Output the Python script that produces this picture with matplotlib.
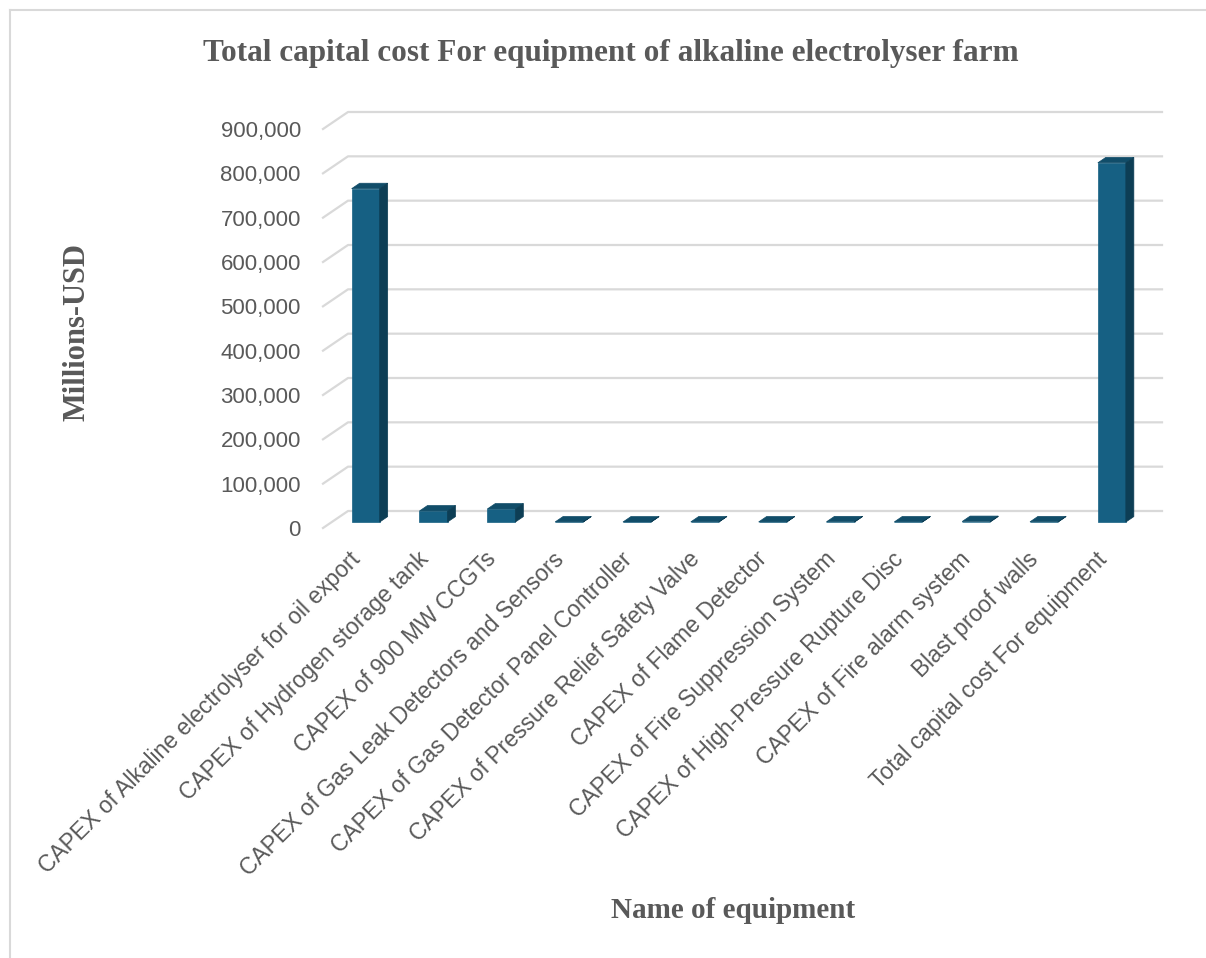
import numpy as np
import matplotlib
matplotlib.use("Agg")
import matplotlib.pyplot as plt
from matplotlib.patches import Polygon
from matplotlib.lines import Line2D

# data (Millions-USD)
categories = [
    "CAPEX of Alkaline electrolyser for oil export",
    "CAPEX of Hydrogen storage tank",
    "CAPEX of 900 MW CCGTs",
    "CAPEX of Gas Leak Detectors and Sensors",
    "CAPEX of Gas Detector Panel Controller",
    "CAPEX of Pressure Relief Safety Valve",
    "CAPEX of Flame Detector",
    "CAPEX of Fire Suppression System",
    "CAPEX of High-Pressure Rupture Disc",
    "CAPEX of Fire alarm system",
    "Blast proof walls",
    "Total capital cost For equipment",
]
costs = [752000, 25000, 29500, 300, 150, 400, 250, 600, 350, 1200, 500, 810300]
y_ticks = [0, 100000, 200000, 300000, 400000, 500000, 600000, 700000, 800000, 900000]

title = "Total capital cost For equipment of alkaline electrolyser farm"
x_title = "Name of equipment"
y_title = "Millions-USD"

W, H = 1206, 958
front = "#166083"
side = "#0d3e55"
top = "#114d69"
grid_c = "#d9d9d9"
text_c = "#595959"

fig = plt.figure(figsize=(W / 100, H / 100), dpi=100)

# axes = front plane of the 3d box
ax_l, ax_r, ax_t, ax_b = 323, 1137, 129, 528
ax = fig.add_axes([ax_l / W, 1 - ax_b / H, (ax_r - ax_l) / W, (ax_b - ax_t) / H])
n = len(categories)
ax.set_xlim(-0.5, n - 0.5)
ax.set_ylim(0, y_ticks[-1])

# depth of the box in data units (25 px right, 17 px up)
dx = 25 / (ax_r - ax_l) * n
dy = 17 / (ax_b - ax_t) * y_ticks[-1]

# back wall gridlines + left wall diagonals
for v in y_ticks:
    ax.plot([-0.5, -0.5 + dx, n - 0.5 + dx], [v, v + dy, v + dy],
            color=grid_c, lw=1.6, clip_on=False, zorder=1)

# bars sit in the middle of the depth
f0, f1 = 0.35, 0.67
bw = 0.413
xs = np.arange(n) + f0 * dx
ax.bar(xs, costs, width=bw, bottom=f0 * dy, color=front, edgecolor=front,
       lw=0.5, zorder=3, clip_on=False)
ddx = (f1 - f0) * dx
ddy = (f1 - f0) * dy
for x, v in zip(xs, costs):
    xl, xr = x - bw / 2, x + bw / 2
    yt = v + f0 * dy
    ax.add_patch(Polygon([(xl, yt), (xr, yt), (xr + ddx, yt + ddy), (xl + ddx, yt + ddy)],
                         closed=True, fc=top, ec=top, lw=0.5, zorder=4, clip_on=False))
    ax.add_patch(Polygon([(xr, f0 * dy), (xr, yt), (xr + ddx, yt + ddy), (xr + ddx, f0 * dy + ddy)],
                         closed=True, fc=side, ec=side, lw=0.5, zorder=4, clip_on=False))

for s in ax.spines.values():
    s.set_visible(False)
ax.set_yticks(y_ticks)
ax.set_yticklabels([f"{v:,}" for v in y_ticks], fontsize=16, color=text_c,
                   fontfamily="Liberation Sans")
ax.set_xticks(np.arange(n))
ax.set_xticklabels(categories, rotation=45, ha="right", va="center",
                   rotation_mode="anchor", fontsize=16.5, color=text_c,
                   fontfamily="Liberation Sans")
ax.tick_params(axis="y", length=0, pad=16)
ax.tick_params(axis="x", length=0, pad=20)

fig.text(611 / W, 1 - 53 / H, title, ha="center", va="center", fontsize=22.5,
         fontweight="bold", color=text_c, fontfamily="Liberation Serif")
fig.text(77 / W, 1 - 332 / H, y_title, ha="center", va="center", rotation=90,
         fontsize=22, fontweight="bold", color=text_c, fontfamily="Liberation Serif")
fig.text(733 / W, 1 - 911 / H, x_title, ha="center", va="center", fontsize=21,
         fontweight="bold", color=text_c, fontfamily="Liberation Serif")

# chart area border (only top and left visible in the crop)
fig.add_artist(Line2D([10 / W, 10 / W], [0, 1 - 10 / H], color=grid_c, lw=1.5))
fig.add_artist(Line2D([10 / W, 1], [1 - 10 / H, 1 - 10 / H], color=grid_c, lw=1.5))

fig.savefig("out.png", dpi=100)
